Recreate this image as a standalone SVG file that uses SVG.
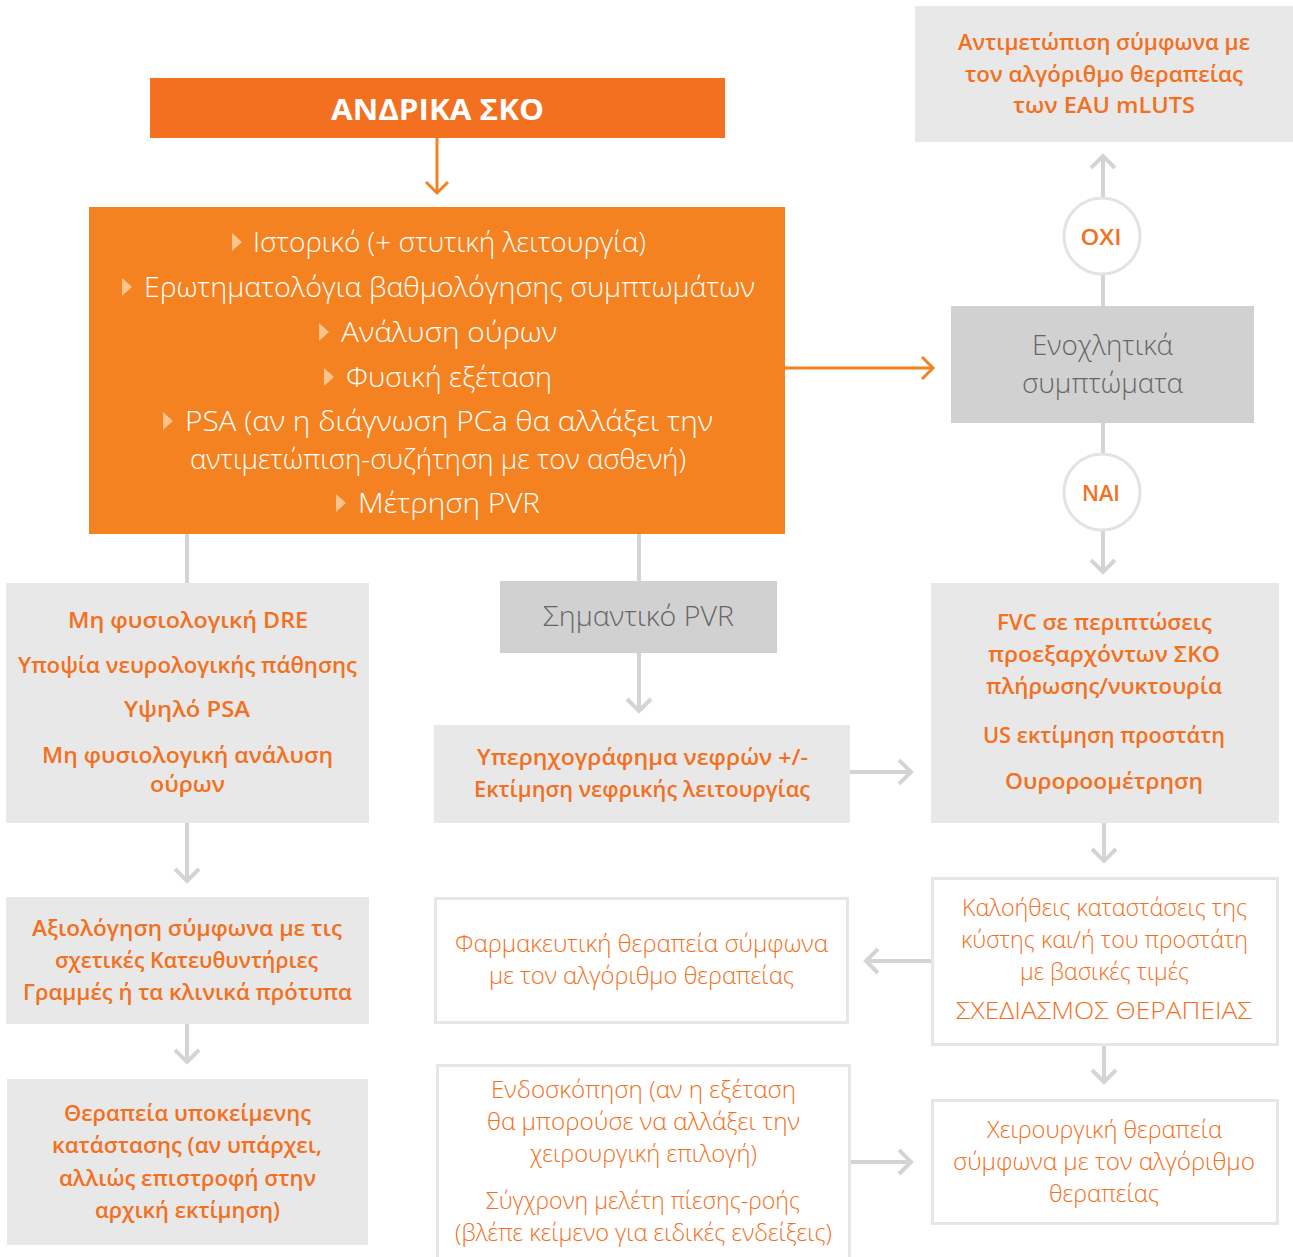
<svg xmlns="http://www.w3.org/2000/svg" width="1293" height="1257" viewBox="0 0 1293 1257">
<defs>
<style>
text{font-family:"Open Sans","Noto Sans","DejaVu Sans",sans-serif;text-anchor:middle}
.hdr{fill:#F37021}
.main{fill:#F48220}
.lg{fill:#E8E8E8}
.dg{fill:#D1D1D1}
.wb{fill:#FFFFFF;stroke:#E6E6E6;stroke-width:3}
.tw{fill:#FFFFFF;font-size:27px;font-weight:300}
.to{fill:#F37021;font-size:22px;font-weight:600}
.tl{fill:#F37021;font-size:23px;font-weight:300}
.tg{fill:#666666;font-size:27px;font-weight:300}
.bul{fill:#FCC48C}
.c{fill:none;stroke:#D4D4D4;stroke-width:4}
.co{fill:none;stroke:#F48220;stroke-width:3}
.circ{fill:#FFFFFF;stroke:#E3E3E3;stroke-width:3}
</style>
<marker id="ag" markerUnits="userSpaceOnUse" markerWidth="30" markerHeight="30" refX="15" refY="14" orient="auto" viewBox="0 0 30 30">
<path d="M3,2 L15,14 L3,26" fill="none" stroke="#D4D4D4" stroke-width="4"/>
</marker>
<marker id="ao" markerUnits="userSpaceOnUse" markerWidth="30" markerHeight="30" refX="15" refY="14" orient="auto" viewBox="0 0 30 30">
<path d="M4,3 L15,14 L4,25" fill="none" stroke="#F48220" stroke-width="3"/>
</marker>
</defs>
<rect width="1293" height="1257" fill="#FFFFFF"/>

<g id="connectors">
<line class="co" x1="437" y1="138" x2="437" y2="193" marker-end="url(#ao)"/>
<line class="co" x1="785" y1="368" x2="933" y2="368" marker-end="url(#ao)"/>
<line class="c" x1="187" y1="534" x2="187" y2="583"/>
<line class="c" x1="639" y1="534" x2="639" y2="581"/>
<line class="c" x1="187" y1="823" x2="187" y2="881" marker-end="url(#ag)"/>
<line class="c" x1="187" y1="1024" x2="187" y2="1062" marker-end="url(#ag)"/>
<line class="c" x1="639" y1="653" x2="639" y2="711" marker-end="url(#ag)"/>
<line class="c" x1="850" y1="772" x2="911" y2="772" marker-end="url(#ag)"/>
<line class="c" x1="1103" y1="275" x2="1103" y2="306"/>
<line class="c" x1="1103" y1="197" x2="1103" y2="156" marker-end="url(#ag)"/>
<line class="c" x1="1103" y1="423" x2="1103" y2="453"/>
<line class="c" x1="1103" y1="531" x2="1103" y2="572" marker-end="url(#ag)"/>
<line class="c" x1="1104" y1="823" x2="1104" y2="861" marker-end="url(#ag)"/>
<line class="c" x1="931" y1="961" x2="866" y2="961" marker-end="url(#ag)"/>
<line class="c" x1="1104" y1="1045" x2="1104" y2="1082" marker-end="url(#ag)"/>
<line class="c" x1="850" y1="1162" x2="911" y2="1162" marker-end="url(#ag)"/>
</g>

<g id="n-header">
<rect class="hdr" x="150" y="78" width="575" height="60"/>
<text x="437.5" y="120" fill="#FFFFFF" font-size="29" font-weight="700" textLength="213" lengthAdjust="spacingAndGlyphs">ΑΝΔΡΙΚΑ ΣΚΟ</text>
</g>

<g id="n-main">
<rect class="main" x="89" y="207" width="696" height="327"/>
<path class="bul" d="M232,233 L242,242 L232,251 Z"/>
<text class="tw" x="449.5" y="252" textLength="393" lengthAdjust="spacingAndGlyphs">Ιστορικό (+ στυτική λειτουργία)</text>
<path class="bul" d="M122,278 L132,287 L122,296 Z"/>
<text class="tw" x="449.5" y="297" textLength="611" lengthAdjust="spacingAndGlyphs">Ερωτηματολόγια βαθμολόγησης συμπτωμάτων</text>
<path class="bul" d="M319,323 L329,332 L319,341 Z"/>
<text class="tw" x="449" y="342" textLength="216" lengthAdjust="spacingAndGlyphs">Ανάλυση ούρων</text>
<path class="bul" d="M324,368 L334,377 L324,386 Z"/>
<text class="tw" x="449" y="387" textLength="206" lengthAdjust="spacingAndGlyphs">Φυσική εξέταση</text>
<path class="bul" d="M163,412 L173,421 L163,430 Z"/>
<text class="tw" x="449" y="431" textLength="528" lengthAdjust="spacingAndGlyphs">PSA (αν η διάγνωση PCa θα αλλάξει την</text>
<text class="tw" x="438" y="469" textLength="496" lengthAdjust="spacingAndGlyphs">αντιμετώπιση-συζήτηση με τον ασθενή)</text>
<path class="bul" d="M336,494 L346,503 L336,512 Z"/>
<text class="tw" x="449" y="513" textLength="182" lengthAdjust="spacingAndGlyphs">Μέτρηση PVR</text>
</g>

<g id="n-eau">
<rect class="lg" x="915" y="6" width="378" height="136"/>
<text class="to" x="1104" y="50" textLength="292" lengthAdjust="spacingAndGlyphs">Αντιμετώπιση σύμφωνα με</text>
<text class="to" x="1104" y="82" textLength="278" lengthAdjust="spacingAndGlyphs">τον αλγόριθμο θεραπείας</text>
<text class="to" x="1104" y="113" textLength="182" lengthAdjust="spacingAndGlyphs">των EAU mLUTS</text>
</g>

<g id="n-oxi">
<circle class="circ" cx="1102" cy="236" r="38"/>
<text class="to" x="1101" y="245" font-size="24" textLength="41" lengthAdjust="spacingAndGlyphs">ΟΧΙ</text>
</g>

<g id="n-symptoms">
<rect class="dg" x="951" y="306" width="303" height="117"/>
<text class="tg" x="1102.5" y="355" textLength="141" lengthAdjust="spacingAndGlyphs">Ενοχλητικά</text>
<text class="tg" x="1102.5" y="393" textLength="161" lengthAdjust="spacingAndGlyphs">συμπτώματα</text>
</g>

<g id="n-nai">
<circle class="circ" cx="1102" cy="492" r="38"/>
<text class="to" x="1101" y="501" font-size="24" textLength="38" lengthAdjust="spacingAndGlyphs">ΝΑΙ</text>
</g>

<g id="n-fvc">
<rect class="lg" x="931" y="583" width="348" height="240"/>
<text class="to" x="1104.5" y="630" textLength="215" lengthAdjust="spacingAndGlyphs">FVC σε περιπτώσεις</text>
<text class="to" x="1104" y="662" textLength="232" lengthAdjust="spacingAndGlyphs">προεξαρχόντων ΣΚΟ</text>
<text class="to" x="1104" y="694" textLength="236" lengthAdjust="spacingAndGlyphs">πλήρωσης/νυκτουρία</text>
<text class="to" x="1104" y="743" textLength="242" lengthAdjust="spacingAndGlyphs">US εκτίμηση προστάτη</text>
<text class="to" x="1104" y="789" textLength="198" lengthAdjust="spacingAndGlyphs">Ουροροομέτρηση</text>
</g>

<g id="n-dre">
<rect class="lg" x="6" y="583" width="363" height="240"/>
<text class="to" x="188" y="628" textLength="240" lengthAdjust="spacingAndGlyphs">Μη φυσιολογική DRE</text>
<text class="to" x="187.5" y="673" textLength="339" lengthAdjust="spacingAndGlyphs">Υποψία νευρολογικής πάθησης</text>
<text class="to" x="187" y="717" textLength="126" lengthAdjust="spacingAndGlyphs">Υψηλό PSA</text>
<text class="to" x="187.5" y="763" textLength="291" lengthAdjust="spacingAndGlyphs">Μη φυσιολογική ανάλυση</text>
<text class="to" x="187.5" y="792" textLength="75" lengthAdjust="spacingAndGlyphs">ούρων</text>
</g>

<g id="n-guidelines">
<rect class="lg" x="6" y="897" width="363" height="127"/>
<text class="to" x="187" y="936" textLength="310" lengthAdjust="spacingAndGlyphs">Αξιολόγηση σύμφωνα με τις</text>
<text class="to" x="186.5" y="968" textLength="263" lengthAdjust="spacingAndGlyphs">σχετικές Κατευθυντήριες</text>
<text class="to" x="187.5" y="1000" textLength="329" lengthAdjust="spacingAndGlyphs">Γραμμές ή τα κλινικά πρότυπα</text>
</g>

<g id="n-underlying">
<rect class="lg" x="7" y="1079" width="361" height="166"/>
<text class="to" x="187.5" y="1121" textLength="247" lengthAdjust="spacingAndGlyphs">Θεραπεία υποκείμενης</text>
<text class="to" x="187" y="1153" textLength="270" lengthAdjust="spacingAndGlyphs">κατάστασης (αν υπάρχει,</text>
<text class="to" x="187.5" y="1186" textLength="257" lengthAdjust="spacingAndGlyphs">αλλιώς επιστροφή στην</text>
<text class="to" x="187.5" y="1218" textLength="185" lengthAdjust="spacingAndGlyphs">αρχική εκτίμηση)</text>
</g>

<g id="n-pvr">
<rect class="dg" x="500" y="581" width="277" height="72"/>
<text class="tg" x="638.5" y="626" textLength="191" lengthAdjust="spacingAndGlyphs">Σημαντικό PVR</text>
</g>

<g id="n-renal">
<rect class="lg" x="434" y="725" width="416" height="98"/>
<text class="to" x="642.5" y="765" textLength="331" lengthAdjust="spacingAndGlyphs">Υπερηχογράφημα νεφρών +/-</text>
<text class="to" x="642" y="797" textLength="336" lengthAdjust="spacingAndGlyphs">Εκτίμηση νεφρικής λειτουργίας</text>
</g>

<g id="n-benign">
<rect class="wb" x="932.5" y="878.5" width="345" height="166"/>
<text class="tl" x="1104.5" y="916" textLength="285" lengthAdjust="spacingAndGlyphs">Καλοήθεις καταστάσεις της</text>
<text class="tl" x="1104.5" y="948" textLength="287" lengthAdjust="spacingAndGlyphs">κύστης και/ή του προστάτη</text>
<text class="tl" x="1104.5" y="980" textLength="169" lengthAdjust="spacingAndGlyphs">με βασικές τιμές</text>
<text class="tl" x="1104" y="1019" textLength="296" lengthAdjust="spacingAndGlyphs">ΣΧΕΔΙΑΣΜΟΣ ΘΕΡΑΠΕΙΑΣ</text>
</g>

<g id="n-pharma">
<rect class="wb" x="435.5" y="898.5" width="412" height="124"/>
<text class="tl" x="641.5" y="952" textLength="373" lengthAdjust="spacingAndGlyphs">Φαρμακευτική θεραπεία σύμφωνα</text>
<text class="tl" x="641.5" y="984" textLength="305" lengthAdjust="spacingAndGlyphs">με τον αλγόριθμο θεραπείας</text>
</g>

<g id="n-surgery">
<rect class="wb" x="932.5" y="1100.5" width="345" height="123"/>
<text class="tl" x="1104.5" y="1138" textLength="235" lengthAdjust="spacingAndGlyphs">Χειρουργική θεραπεία</text>
<text class="tl" x="1104" y="1170" textLength="302" lengthAdjust="spacingAndGlyphs">σύμφωνα με τον αλγόριθμο</text>
<text class="tl" x="1104" y="1202" textLength="110" lengthAdjust="spacingAndGlyphs">θεραπείας</text>
</g>

<g id="n-endoscopy">
<rect class="wb" x="437.5" y="1065.5" width="412" height="200"/>
<text class="tl" x="643.5" y="1098" textLength="305" lengthAdjust="spacingAndGlyphs">Ενδοσκόπηση (αν η εξέταση</text>
<text class="tl" x="643.5" y="1130" textLength="313" lengthAdjust="spacingAndGlyphs">θα μπορούσε να αλλάξει την</text>
<text class="tl" x="643.5" y="1162" textLength="227" lengthAdjust="spacingAndGlyphs">χειρουργική επιλογή)</text>
<text class="tl" x="643" y="1209" textLength="314" lengthAdjust="spacingAndGlyphs">Σύγχρονη μελέτη πίεσης-ροής</text>
<text class="tl" x="643.5" y="1241" textLength="377" lengthAdjust="spacingAndGlyphs">(βλέπε κείμενο για ειδικές ενδείξεις)</text>
</g>
</svg>
